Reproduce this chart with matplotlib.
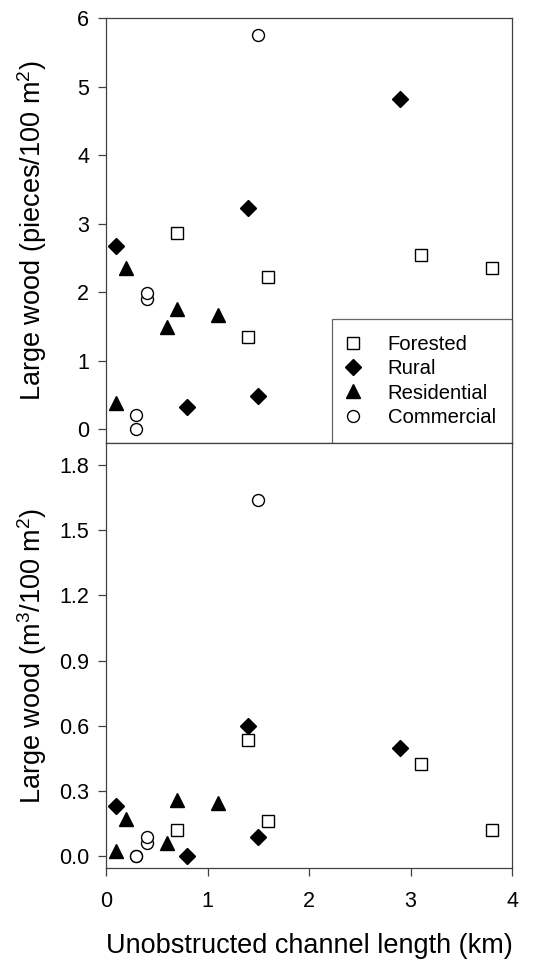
import numpy as np
import matplotlib
matplotlib.use("Agg")
import matplotlib.pyplot as plt

plt.rcParams['font.family'] = ['Liberation Sans', 'DejaVu Sans']
plt.rcParams['mathtext.default'] = 'regular'

# datos
forested_x = [0.7, 1.6, 1.4, 3.1, 3.8]
forested_pieces = [2.86, 2.23, 1.35, 2.54, 2.36]
forested_vol = [0.12, 0.165, 0.535, 0.425, 0.12]

rural_x = [0.1, 0.8, 1.4, 1.5, 2.9]
rural_pieces = [2.67, 0.33, 3.23, 0.49, 4.82]
rural_vol = [0.23, 0.003, 0.598, 0.089, 0.50]

resid_x = [0.1, 0.2, 0.6, 0.7, 1.1]
resid_pieces = [0.39, 2.35, 1.50, 1.75, 1.67]
resid_vol = [0.023, 0.172, 0.062, 0.26, 0.248]

comm_x = [0.3, 0.3, 0.4, 0.4, 1.5]
comm_pieces = [0.0, 0.21, 1.90, 1.99, 5.76]
comm_vol = [0.0, 0.003, 0.062, 0.089, 1.64]

groups = ['Forested', 'Rural', 'Residential', 'Commercial']
estilos = {
    'Forested': dict(marker='s', ms=8.2, mfc='white', mec='black', mew=1.0),
    'Rural': dict(marker='D', ms=8.5, mfc='black', mec='black', mew=1.0),
    'Residential': dict(marker='^', ms=9.5, mfc='black', mec='black', mew=1.0),
    'Commercial': dict(marker='o', ms=8.6, mfc='white', mec='black', mew=1.0),
}
xs = {'Forested': forested_x, 'Rural': rural_x, 'Residential': resid_x, 'Commercial': comm_x}
top_vals = {'Forested': forested_pieces, 'Rural': rural_pieces,
            'Residential': resid_pieces, 'Commercial': comm_pieces}
bot_vals = {'Forested': forested_vol, 'Rural': rural_vol,
            'Residential': resid_vol, 'Commercial': comm_vol}

fig = plt.figure(figsize=(5.49, 9.61), dpi=100)
ax1 = fig.add_axes([0.193, 0.539, 0.740, 0.442])
ax2 = fig.add_axes([0.193, 0.097, 0.740, 0.442])

spine_c = '#404040'
tick_fs = 15.5
label_fs = 19.5
for ax in (ax1, ax2):
    for s in ax.spines.values():
        s.set_color(spine_c)
        s.set_linewidth(0.9)
    ax.tick_params(axis='y', direction='out', length=6, width=0.9, color=spine_c,
                   labelsize=tick_fs, pad=6)
    ax.set_xlim(0, 4)

# panel superior
for g in groups:
    ax1.plot(xs[g], top_vals[g], ls='none', label=g, **estilos[g])
ax1.set_ylim(-0.2, 6)
ax1.set_yticks([0, 1, 2, 3, 4, 5, 6])
ax1.tick_params(axis='x', bottom=False, labelbottom=False)
ax1.set_ylabel('Large wood (pieces/100 m$^2$)', fontsize=label_fs, va='center')
ax1.yaxis.set_label_coords(-0.182, 0.5)

leg = ax1.legend(loc='lower right', borderaxespad=0, fontsize=14.6, frameon=True,
                 fancybox=False, handlelength=0.5, handletextpad=1.45,
                 borderpad=0.8, labelspacing=0.26)
leg.get_frame().set_edgecolor(spine_c)
leg.get_frame().set_linewidth(0.9)

# panel inferior
for g in groups:
    ax2.plot(xs[g], bot_vals[g], ls='none', **estilos[g])
ax2.set_ylim(-0.052, 1.9)
yt = np.arange(0, 1.81, 0.3)
ax2.set_yticks(yt)
ax2.set_yticklabels([f'{v:.1f}' for v in yt])
ax2.set_xticks([0, 1, 2, 3, 4])
ax2.tick_params(axis='x', direction='out', length=6, width=0.9, color=spine_c,
                labelsize=tick_fs, pad=11)
ax2.set_ylabel('Large wood (m$^3$/100 m$^2$)', fontsize=label_fs, va='center')
ax2.yaxis.set_label_coords(-0.182, 0.5)
ax2.set_xlabel('Unobstructed channel length (km)', fontsize=label_fs, va='center')
ax2.xaxis.set_label_coords(0.5, -0.183)

fig.savefig('out.png', dpi=100)
